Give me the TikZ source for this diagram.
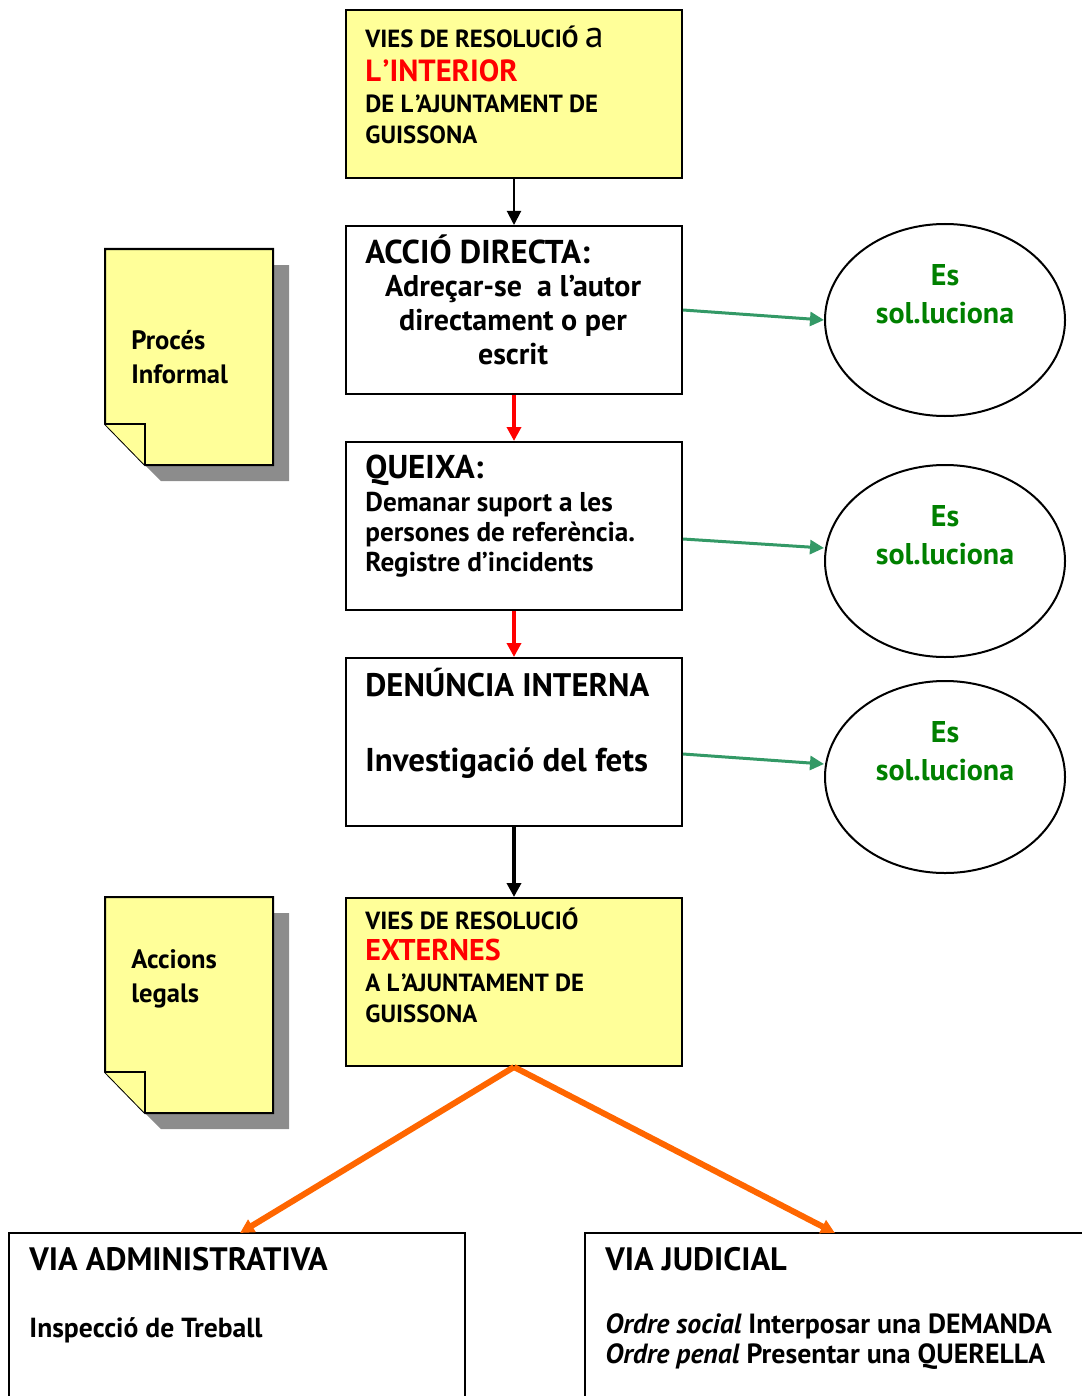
\documentclass[tikz,border=0pt]{standalone}
\usepackage{fontspec}
\setmainfont{PT Sans}
\usepackage{tikz}
\usetikzlibrary{arrows.meta,shapes.geometric}

\definecolor{notegold}{RGB}{255,255,153}
\definecolor{solgreen}{RGB}{0,128,0}
\definecolor{arrgreen}{RGB}{51,153,102}
\definecolor{arrorange}{RGB}{255,102,0}

\tikzset{
  box/.style={draw=black, line width=1pt, anchor=north west, inner sep=0pt},
  txt/.style={anchor=north west, align=left, inner sep=0pt, font=\bfseries},
  sol/.style={draw=black, line width=1pt, ellipse, minimum width=120pt, minimum height=96pt},
  link/.style={-{Triangle[length=7pt,width=7pt]}, line width=1pt},
}
\newcommand{\Lap}{L\kern0.8pt’}

\begin{document}
\begin{tikzpicture}[x=0.5pt,y=-0.5pt]
	\useasboundingbox (0,0) rectangle (1081,1396);
	% notes on the left
    \fill[gray!90] (121,265) -- (289,265) -- (289,481) -- (161,481) -- (121,441) -- cycle;
    \draw[fill=notegold,line width=1pt] (105,249) -- (273,249) -- (273,465) -- (145,465) -- (105,424) -- cycle;
    \draw[fill=notegold,line width=1pt] (105,424) -- (145,424) -- (145,465);
    \node[txt,font=\bfseries\fontsize{13.3}{17}\selectfont] (proces) at (131,330) {Procés\\Informal};
    \fill[gray!90] (121,913) -- (289,913) -- (289,1129) -- (161,1129) -- (121,1089) -- cycle;
    \draw[fill=notegold,line width=1pt] (105,897) -- (273,897) -- (273,1113) -- (145,1113) -- (105,1072) -- cycle;
    \draw[fill=notegold,line width=1pt] (105,1072) -- (145,1072) -- (145,1113);
    \node[txt,font=\bfseries\fontsize{13.3}{17}\selectfont] (accions) at (131,949) {Accions\\legals};
	% main column
    \node[box,fill=notegold,minimum width=168pt,minimum height=84pt] (interior) at (345,9) {};
    \node[txt,font=\bfseries\fontsize{12.4}{15.5}\selectfont] (interiortxt) at (365,26)
      {VIES DE RESOLUCIÓ {\mdseries\fontsize{19}{15}\selectfont a}\\[1.3pt]
       {\color{red}\fontsize{15.3}{15.5}\selectfont \Lap INTERIOR}\\
       DE \Lap AJUNTAMENT DE\\GUISSONA};
    \node[box,minimum width=168pt,minimum height=84pt] (directa) at (345,225) {};
    \node[txt,font=\bfseries\fontsize{16.5}{16}\selectfont] (directatxt) at (365,234) {ACCIÓ DIRECTA:};
    \node[align=center,inner sep=0pt,font=\bfseries\fontsize{15}{17}\selectfont] (directadesc) at (513,320)
      {Adreçar-se \ a l’autor\\directament o per\\escrit};
    \node[box,minimum width=168pt,minimum height=84pt] (queixa) at (345,441) {};
    \node[txt,font=\bfseries\fontsize{16.5}{16}\selectfont] (queixatxt) at (365,455) {QUEIXA:};
    \node[txt,font=\bfseries\fontsize{13.6}{15}\selectfont] (queixadesc) at (365,492)
      {Demanar suport a les\\persones de referència.\\Registre d’incidents};
    \node[box,minimum width=168pt,minimum height=84pt] (denuncia) at (345,657) {};
    \node[txt,font=\bfseries\fontsize{16.3}{16}\selectfont] (denunciatxt) at (365,668) {DENÚNCIA INTERNA};
    \node[txt,font=\bfseries\fontsize{16.5}{16}\selectfont] (denunciadesc) at (365,747) {Investigació del fets};
    \node[box,fill=notegold,minimum width=168pt,minimum height=84pt] (externes) at (345,897) {};
    \node[txt,font=\bfseries\fontsize{12.4}{15.5}\selectfont] (externestxt) at (365,908)
      {VIES DE RESOLUCIÓ\\
       {\color{red}\fontsize{15}{15.5}\selectfont EXTERNES}\\
       A \Lap AJUNTAMENT DE\\GUISSONA};
	% solved
    \node[sol] (sol1) at (945,320) {};
    \node[sol] (sol2) at (945,561) {};
    \node[sol] (sol3) at (945,777) {};
    \foreach \s in {1,2,3}
      \node[align=center,inner sep=0pt,text=solgreen,font=\bfseries\fontsize{15}{19}\selectfont] (soltxt\s) at ([yshift=13pt]sol\s.center) {Es\\sol.luciona};
	% bottom boxes
    \draw[line width=1pt] (9,1400) -- (9,1233) -- (465,1233) -- (465,1400);
    \coordinate (adm) at (240,1233);
    \draw[line width=1pt] (585,1400) -- (585,1233) -- (1085,1233);
    \coordinate (jud) at (835,1233);
    \node[txt,font=\bfseries\fontsize{16.2}{16}\selectfont] (admtxt) at (29,1247) {VIA ADMINISTRATIVA};
    \node[txt,font=\bfseries\fontsize{13.8}{16}\selectfont] (admdesc) at (29,1317) {Inspecció de Treball};
    \node[txt,font=\bfseries\fontsize{16.2}{16}\selectfont] (judtxt) at (605,1247) {VIA JUDICIAL};
    \node[txt,font=\bfseries\fontsize{13.9}{15}\selectfont] (juddesc) at (605,1313)
      {{\itshape Ordre social} Interposar una DEMANDA\\{\itshape Ordre penal} Presentar una QUERELLA};
	% connectors
    \draw[link] (interior.south) -- (directa.north);
    \draw[link,red,line width=2pt] (directa.south) -- (queixa.north);
    \draw[link,red,line width=2pt] (queixa.south) -- (denuncia.north);
    \draw[link,line width=2pt] (denuncia.south) -- (externes.north);
    \draw[link,arrgreen,line width=1.5pt] (directa.east) -- (sol1.west);
    \draw[link,arrgreen,line width=1.5pt] ([yshift=-6.5pt]queixa.east) -- ([yshift=6.5pt]sol2.west);
    \draw[link,arrgreen,line width=1.5pt] ([yshift=-6pt]denuncia.east) -- ([yshift=6.5pt]sol3.west);
    \draw[link,arrorange,line width=3pt] (externes.south) -- (adm);
    \draw[link,arrorange,line width=3pt] (externes.south) -- (jud);
\end{tikzpicture}
\end{document}
